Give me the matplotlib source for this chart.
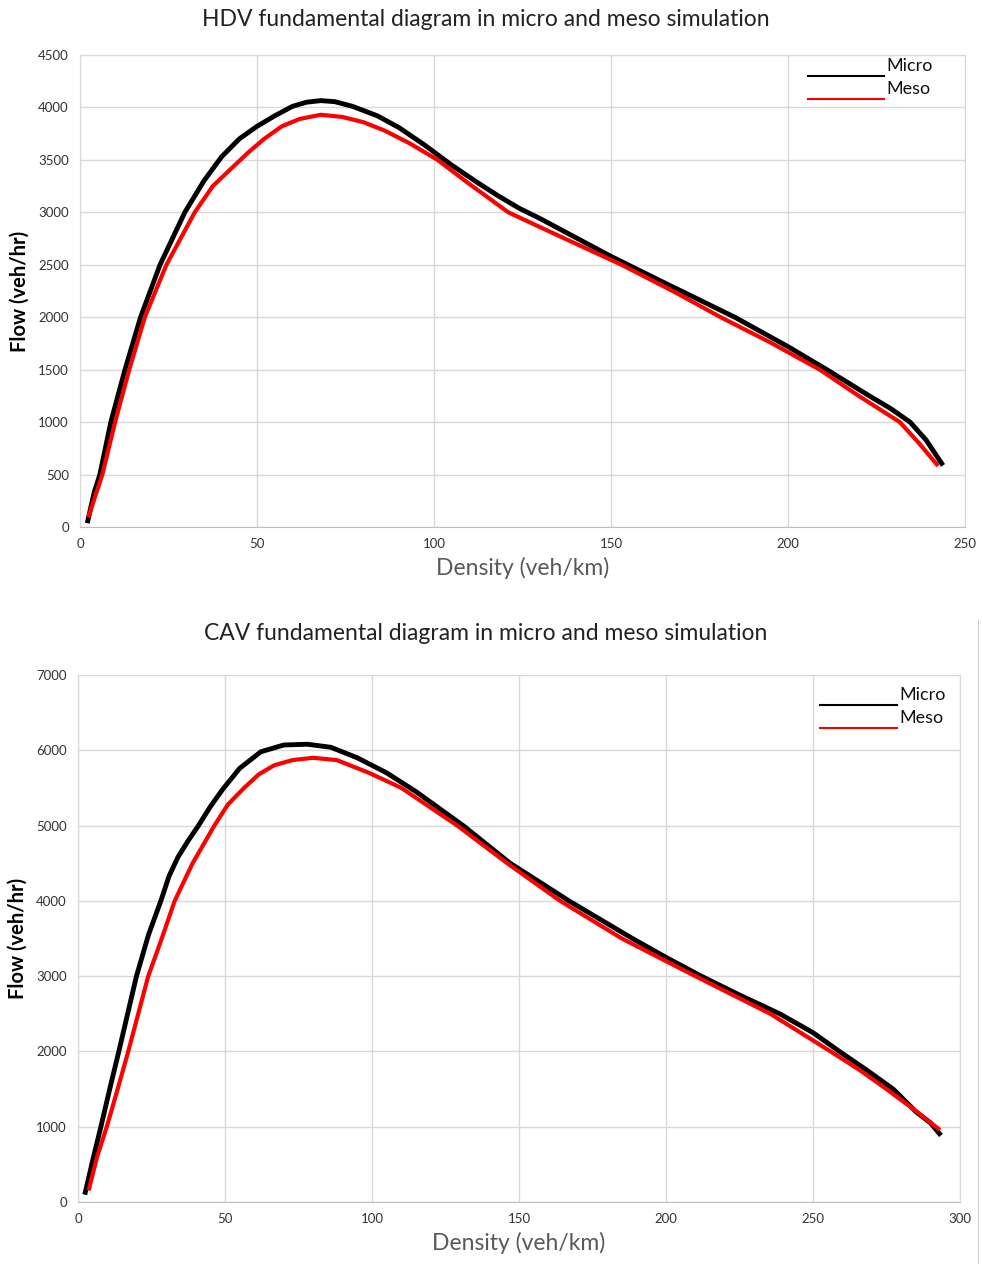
import matplotlib
matplotlib.use("Agg")
import matplotlib.pyplot as plt
from matplotlib.lines import Line2D

plt.rcParams['font.family'] = ['Lato', 'DejaVu Sans']

# HDV panel
hdv_micro_x = [2.2, 4, 5.6, 8.7, 12.7, 17.1, 22.6, 29.6, 35, 40, 45, 50, 55, 60, 64, 68, 72, 77,
               84, 90, 97, 105, 112, 118, 124, 130, 140, 150, 165, 185, 200, 211, 223, 229, 234.5,
               239, 243.4]
hdv_micro_y = [60, 330, 500, 1000, 1500, 2000, 2500, 3000, 3300, 3530, 3700, 3820, 3920, 4010,
               4050, 4065, 4055, 4010, 3920, 3810, 3650, 3450, 3290, 3160, 3040, 2940, 2760, 2580,
               2330, 2000, 1720, 1500, 1250, 1130, 1000, 830, 607]
hdv_meso_x = [2.5, 6.3, 9.9, 13.9, 18.3, 24.4, 32.4, 37.5, 42.8, 47.5, 52, 57, 62, 68, 74, 80, 86,
              93, 101, 110, 121, 135, 153, 168, 181, 195, 209, 220, 231.6, 237, 242]
hdv_meso_y = [110, 500, 1000, 1500, 2000, 2500, 3000, 3250, 3420, 3570, 3700, 3820, 3890, 3930,
              3910, 3860, 3780, 3660, 3500, 3270, 3000, 2780, 2500, 2240, 2000, 1760, 1500, 1250,
              1000, 800, 598]

# CAV panel
cav_micro_x = [2.5, 5, 7.8, 10.8, 13.9, 19.9, 24, 28.2, 31, 34, 37.5, 41, 45, 49.2, 55, 62.2, 70,
               78, 86, 95, 105, 115, 131, 147, 167, 188.6, 200, 212, 225, 238.7, 250, 259, 268,
               277.3, 285, 290, 293]
cav_micro_y = [130, 550, 1000, 1500, 2000, 3000, 3550, 4000, 4330, 4580, 4800, 5000, 5250, 5480,
               5760, 5980, 6070, 6080, 6040, 5900, 5700, 5450, 5000, 4500, 4000, 3500, 3250, 3000,
               2750, 2500, 2250, 2000, 1760, 1500, 1200, 1050, 909]
cav_meso_x = [3.8, 6.5, 9.8, 13.5, 17.1, 20.5, 23.9, 28.5, 32.9, 39, 46.4, 51, 56.5, 61.5, 66.7, 73,
              80, 88, 99, 110, 129, 146, 164, 185, 210, 235.5, 256, 266, 275, 284, 292.6]
cav_meso_y = [180, 600, 1000, 1500, 2000, 2500, 3000, 3500, 4000, 4500, 5000, 5280, 5500, 5680,
              5800, 5870, 5900, 5870, 5700, 5500, 5000, 4500, 4000, 3500, 3000, 2500, 2000, 1750,
              1500, 1240, 975]

series_names = ['Micro', 'Meso']
series_colors = ['black', 'red']

fig = plt.figure(figsize=(9.83, 12.64), dpi=100)
ax1 = fig.add_axes([0.0814, 0.583, 0.9003, 0.3735])
ax2 = fig.add_axes([0.0793, 0.049, 0.8973, 0.417])


def style(ax, xmax, ymax, ystep, title, title_y, leg_x, leg_y, leg_dy):
    ax.set_xlim(0, xmax)
    ax.set_ylim(0, ymax)
    ax.set_xticks(range(0, xmax + 1, 50))
    ax.set_yticks(range(0, ymax + 1, ystep))
    ax.grid(True, color='#d9d9d9', linewidth=1)
    ax.set_axisbelow(True)
    for s in ax.spines.values():
        s.set_color('#d9d9d9')
    ax.spines['bottom'].set_color('#bfbfbf')
    ax.tick_params(length=0, labelsize=9.5, colors='#333333', pad=8)
    ax.set_xlabel('Density (veh/km)', fontsize=16.5, color='#595959', labelpad=5)
    ax.set_ylabel('Flow (veh/hr)', fontsize=14.5, fontweight='bold', color='black', labelpad=6)
    fig.text(0.494, title_y, title, ha='center', va='center', fontsize=16.5, color='#222222')
    # legend drawn as underline + label, like the original
    for i, (name, col) in enumerate(zip(series_names, series_colors)):
        y = leg_y - i * leg_dy
        ax.add_line(Line2D([leg_x[0], leg_x[1]], [y, y], transform=ax.transAxes,
                           color=col, lw=1.5))
        ax.text(leg_x[1] + 0.003, y + 0.004, name, transform=ax.transAxes, fontsize=13,
                ha='left', va='bottom', color='#111111')


ax1.plot(hdv_micro_x, hdv_micro_y, color='black', lw=3.5, solid_joinstyle='round')
ax1.plot(hdv_meso_x, hdv_meso_y, color='red', lw=3, solid_joinstyle='round')
style(ax1, 250, 4500, 500, 'HDV fundamental diagram in micro and meso simulation',
      1 - 20 / 1264, (0.8226, 0.9085), 0.9555, 0.0487)

ax2.plot(cav_micro_x, cav_micro_y, color='black', lw=3.5, solid_joinstyle='round')
ax2.plot(cav_meso_x, cav_meso_y, color='red', lw=3, solid_joinstyle='round')
style(ax2, 300, 7000, 1000, 'CAV fundamental diagram in micro and meso simulation',
      1 - 634 / 1264, (0.8413, 0.9286), 0.943, 0.0435)

# thin border at the right of the lower panel image
fig.add_artist(Line2D([978 / 983, 978 / 983], [0, 1 - 620 / 1264], color='#d0d0d0', lw=0.8))

fig.savefig('out.png', dpi=100)
